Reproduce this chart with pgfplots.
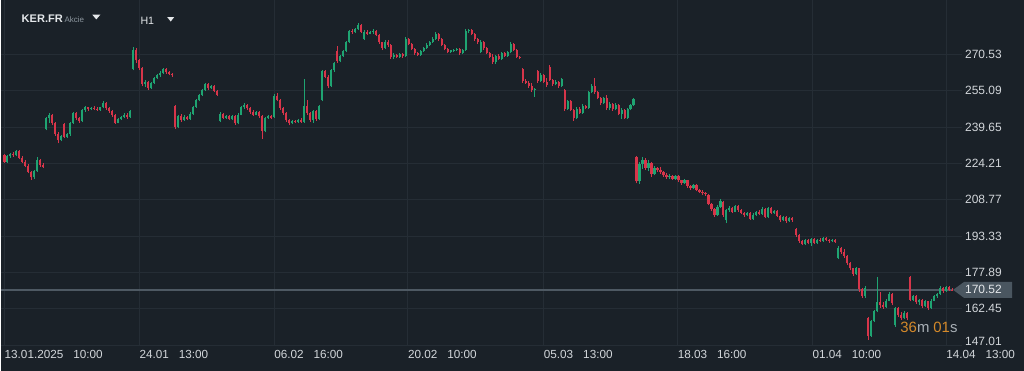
\documentclass[border=0pt]{standalone}
\usepackage{pgfplots}
\pgfplotsset{compat=1.18}
\usepackage{pgfplotstable}
\usepackage{fontspec}
\setmainfont{Liberation Sans}
\definecolor{bgc}{HTML}{1A2128}
\definecolor{gridc}{HTML}{252D35}
\definecolor{upc}{HTML}{1FA472}
\definecolor{dnc}{HTML}{D7354A}
\definecolor{txtc}{HTML}{D2D6DA}
\definecolor{pricec}{HTML}{4E5963}
\definecolor{boxc}{HTML}{4A5660}
\definecolor{orangec}{HTML}{D4892A}
\definecolor{mutec}{HTML}{A9B0B6}
\definecolor{headc}{HTML}{E4E7EA}
\definecolor{subc}{HTML}{8C969E}

% x = horizontal position (px), o h l c = prices, d = 1 up / 0 down
\pgfplotstableread{
x o h l c d
3 227.6 228.2 224.6 225.0 0
6 225.0 227.8 224.5 227.2 1
9 227.2 228.6 226.5 228.3 1
12 228.3 229.0 227.0 227.6 0
15 227.6 230.0 227.2 229.4 1
18 229.4 229.8 226.0 226.5 0
21 226.5 227.3 224.5 225.0 0
24 225.0 225.8 222.6 223.2 0
27 223.2 224.0 220.0 220.6 0
30 220.6 221.2 217.4 218.3 0
33 218.3 221.6 217.8 220.9 1
36 220.9 226.8 220.5 225.8 1
39 225.8 226.2 222.8 223.5 0
42 223.5 224.4 222.2 222.6 0
45 238.7 244.0 238.3 243.5 1
48 243.5 245.6 241.5 245.0 1
51 245.0 245.3 240.5 241.2 0
54 241.2 241.8 236.0 236.8 0
57 236.8 237.5 232.7 234.2 0
60 234.2 236.5 233.6 236.0 1
63 240.8 241.4 235.2 235.6 0
66 235.6 237.2 235.0 236.6 1
69 236.6 242.0 236.0 241.5 1
72 241.5 246.0 241.0 245.6 1
75 245.6 245.9 242.8 243.4 0
78 243.4 243.9 241.6 242.2 0
81 242.2 247.5 241.8 247.0 1
84 247.0 248.6 246.2 248.0 1
87 248.0 248.4 246.6 247.3 0
90 247.3 248.2 246.8 247.9 1
93 247.9 248.7 247.0 247.5 0
96 247.5 248.0 246.6 247.0 0
99 247.0 248.4 246.5 248.0 1
102 248.0 250.6 247.6 250.0 1
105 250.0 250.2 247.0 247.6 0
108 247.6 248.3 245.8 246.5 0
111 246.5 247.0 244.0 244.8 0
114 244.8 245.2 241.0 241.6 0
117 241.6 243.6 241.2 243.0 1
120 243.0 244.5 242.6 244.0 1
123 244.0 245.6 243.5 245.0 1
126 245.0 245.5 243.2 244.0 0
129 244.0 247.0 243.6 246.4 1
132 264.2 273.5 263.8 272.4 1
135 272.4 273.2 267.0 268.0 0
138 268.0 268.6 264.0 264.8 0
141 264.8 265.2 257.0 258.0 0
144 258.0 259.6 256.8 259.0 1
147 259.0 259.4 255.4 256.2 0
150 256.2 258.8 255.8 258.4 1
153 258.4 261.0 258.0 260.4 1
156 260.4 262.2 260.0 261.6 1
159 261.6 263.4 261.0 262.8 1
162 262.8 264.8 262.2 264.2 1
165 264.2 264.6 262.4 263.0 0
168 263.0 263.6 261.6 262.2 0
171 262.2 262.8 261.0 261.6 0
174 248.6 249.0 238.8 239.6 0
177 239.6 245.0 239.2 244.4 1
180 244.4 245.2 242.0 242.8 0
183 242.8 244.6 242.4 244.0 1
186 244.0 244.4 242.6 243.2 0
189 243.2 246.0 242.8 245.4 1
192 245.4 248.8 245.0 248.2 1
195 248.2 251.6 247.8 251.0 1
198 251.0 253.8 250.6 253.2 1
201 253.2 256.0 252.8 255.4 1
204 255.4 258.4 255.0 257.8 1
207 257.8 258.2 255.6 256.2 0
210 256.2 257.6 255.8 257.0 1
213 257.0 257.4 254.4 255.0 0
216 255.0 255.4 252.8 253.4 0
219 242.2 246.0 241.8 245.4 1
222 245.4 245.8 243.0 243.6 0
225 243.6 244.8 243.2 244.4 1
228 244.4 244.8 242.6 243.0 0
231 243.0 244.6 242.6 244.2 1
234 244.2 244.6 240.6 241.2 0
237 241.2 245.6 240.8 245.0 1
240 245.0 248.6 244.6 248.0 1
243 248.0 249.8 247.4 249.0 1
246 249.0 249.6 247.0 247.6 0
249 247.6 248.0 245.4 246.0 0
252 246.0 246.8 244.4 245.0 0
255 245.0 246.6 244.6 246.0 1
258 246.0 246.4 243.6 244.2 0
261 244.2 244.6 234.8 238.0 0
264 238.0 244.0 237.4 243.4 1
267 243.4 244.8 243.0 244.2 1
270 244.2 244.6 243.0 243.6 0
273 244.0 253.6 243.6 253.0 1
276 253.0 254.2 250.6 251.2 0
279 251.2 251.6 247.0 247.8 0
282 247.8 248.4 245.0 245.8 0
285 245.8 246.2 242.0 242.8 0
288 242.8 243.2 240.4 241.2 0
291 241.2 242.8 240.8 242.4 1
294 242.4 242.8 241.2 241.8 0
297 241.8 243.0 241.4 242.6 1
300 242.6 243.4 241.6 242.0 0
303 242.0 260.0 241.6 248.6 1
306 248.6 251.2 245.0 245.6 0
309 245.6 246.0 242.0 242.8 0
312 242.8 247.0 241.6 246.4 1
315 246.4 246.8 242.4 243.0 0
318 243.0 249.2 242.6 248.6 1
321 251.0 264.0 250.6 263.4 1
324 263.4 263.8 260.4 261.0 0
327 261.0 261.6 256.2 257.0 0
330 257.0 264.4 256.6 263.8 1
333 263.8 267.4 263.2 266.8 1
336 272.0 274.2 266.8 267.6 0
339 267.6 270.4 267.2 269.8 1
342 269.8 272.6 269.4 272.0 1
345 272.0 276.4 271.6 275.8 1
348 275.8 281.0 275.4 280.4 1
351 280.4 281.2 279.2 280.0 0
354 280.0 281.8 279.6 281.2 1
357 281.2 283.8 280.8 283.0 1
360 283.0 283.4 279.6 280.2 0
363 277.2 280.8 276.8 280.2 1
366 280.2 280.8 278.8 279.4 0
369 279.4 280.6 279.0 280.2 1
372 280.2 281.2 279.4 280.6 1
375 280.6 281.0 278.2 278.8 0
378 278.8 279.2 275.0 275.6 0
381 275.6 276.0 272.6 273.4 0
384 273.4 276.6 273.0 276.0 1
387 276.0 276.8 273.6 274.4 0
390 274.4 274.8 268.6 269.4 0
393 269.4 271.0 268.6 270.4 1
396 270.4 270.8 268.8 269.4 0
399 269.4 271.0 269.0 270.6 1
402 270.6 271.0 269.2 269.8 0
405 269.8 277.8 269.4 277.0 1
408 277.0 277.6 274.4 275.0 0
411 275.0 275.4 272.4 273.0 0
414 273.0 273.4 270.4 271.0 0
417 271.0 271.6 269.8 270.4 0
420 270.4 272.6 270.0 272.0 1
423 272.0 273.8 271.6 273.2 1
426 273.2 275.2 272.8 274.6 1
429 274.6 276.4 274.2 275.8 1
432 275.8 277.8 275.4 277.2 1
435 277.2 280.0 276.8 279.4 1
438 279.4 279.8 276.4 277.0 0
441 277.0 277.4 274.0 274.6 0
444 274.6 275.0 272.2 272.8 0
447 272.8 273.2 271.0 271.6 0
450 271.6 272.6 271.2 272.2 1
453 272.2 273.0 271.6 272.6 1
456 272.6 273.4 272.0 272.8 1
459 272.8 273.2 270.2 271.0 0
462 271.0 272.8 270.6 272.4 1
465 272.4 281.2 272.0 280.4 1
468 280.4 281.2 279.6 280.8 1
471 280.8 281.2 278.6 279.2 0
474 279.2 279.6 276.4 277.0 0
477 277.0 277.4 275.0 275.6 0
480 271.6 276.6 271.2 276.0 1
483 276.0 276.4 272.6 273.2 0
486 273.2 273.6 270.6 271.2 0
489 271.2 271.6 269.0 269.6 0
492 269.6 270.6 266.6 267.2 0
495 267.2 270.4 266.4 269.8 1
498 269.8 270.6 268.0 268.6 0
501 268.6 271.6 268.2 271.0 1
504 271.0 271.4 269.4 270.0 0
507 270.0 272.0 269.6 271.4 1
510 271.4 275.6 271.0 275.0 1
513 275.0 275.4 272.0 272.6 0
516 272.6 273.0 269.0 269.6 0
519 269.6 270.0 268.4 268.8 0
522 264.4 264.8 258.6 259.4 0
525 259.4 260.0 258.0 258.6 0
528 258.6 259.4 256.4 257.2 0
531 257.2 258.2 254.6 255.4 0
534 255.4 256.4 252.6 255.8 1
537 263.4 263.8 258.6 259.2 0
540 259.2 262.6 258.8 262.0 1
543 262.0 262.4 258.4 259.0 0
546 259.0 260.4 256.6 257.4 0
549 265.4 266.0 259.2 259.8 0
552 259.8 260.2 257.2 257.8 0
555 257.8 259.6 257.4 259.0 1
558 259.0 259.4 256.4 257.0 0
561 257.0 260.6 256.6 260.0 1
564 255.6 256.0 246.6 247.4 0
567 247.4 251.2 247.0 250.6 1
570 250.6 251.0 246.4 247.0 0
573 247.0 247.4 242.4 243.6 0
576 243.6 248.0 243.2 247.4 1
579 247.4 248.2 245.2 245.8 0
582 245.8 249.4 245.4 248.8 1
585 248.8 249.2 247.2 247.8 0
588 247.8 255.0 247.4 254.4 1
591 254.4 257.8 254.0 257.2 1
594 257.2 260.4 253.8 254.6 0
597 254.6 255.0 251.4 252.0 0
600 252.0 252.4 249.0 249.8 0
603 249.8 252.6 249.4 252.0 1
606 252.0 253.4 247.0 247.8 0
609 247.8 250.2 246.8 249.6 1
612 249.6 250.0 246.6 247.2 0
615 247.2 249.8 246.8 249.2 1
618 249.2 249.6 244.6 245.2 0
621 245.2 247.6 243.2 247.0 1
624 247.0 247.4 243.0 243.6 0
627 243.6 247.8 243.2 247.2 1
630 247.2 249.6 246.8 249.0 1
633 249.0 252.0 248.6 251.4 1
636 226.8 227.4 215.8 216.6 0
639 216.6 224.8 215.6 223.8 1
642 223.8 226.8 222.0 225.8 1
645 225.8 226.4 221.4 222.4 0
648 222.4 225.6 221.0 224.6 1
651 224.6 225.0 218.4 219.6 0
654 219.6 223.2 219.2 222.4 1
657 222.4 222.8 220.6 221.4 0
660 221.4 222.6 219.8 220.6 0
663 220.6 221.0 218.6 219.2 0
666 219.2 220.0 217.6 218.4 0
669 218.4 219.6 217.8 219.0 1
672 219.0 219.4 217.2 217.8 0
675 217.8 219.2 217.4 218.8 1
678 218.8 219.2 216.4 217.0 0
681 217.0 217.4 215.2 215.8 0
684 215.8 217.6 215.4 217.0 1
687 217.0 217.4 214.0 214.6 0
690 214.6 215.0 213.0 213.6 0
693 213.6 215.6 213.2 215.0 1
696 215.0 215.4 212.4 213.0 0
699 213.0 213.4 211.6 212.2 0
702 212.2 212.8 211.0 211.6 0
705 211.6 212.0 210.6 211.2 0
708 210.8 211.2 206.4 207.2 0
711 207.2 207.6 204.0 204.8 0
714 204.8 205.2 201.4 202.2 0
717 202.2 206.6 201.8 205.8 1
720 205.8 209.0 205.4 208.2 1
723 208.0 208.4 201.4 202.4 0
726 200.2 205.0 198.9 204.4 1
729 204.4 206.0 203.8 205.4 1
732 205.4 205.8 203.2 203.8 0
735 203.8 206.6 203.4 206.0 1
738 206.0 206.4 203.8 204.4 0
741 204.4 204.8 202.6 203.2 0
744 203.2 203.8 201.6 202.2 0
747 202.2 203.6 201.8 203.0 1
750 203.0 203.4 200.2 200.8 0
753 200.8 203.0 200.4 202.4 1
756 202.4 204.2 202.0 203.6 1
759 203.6 204.6 202.2 202.8 0
762 202.8 205.6 202.4 205.0 1
765 205.0 205.4 201.0 201.6 0
768 201.6 205.8 201.2 205.2 1
771 205.2 205.6 202.6 203.2 0
774 203.2 204.6 202.8 204.0 1
777 204.0 204.4 201.4 202.0 0
780 202.0 202.4 199.4 200.0 0
783 200.0 202.0 199.6 201.4 1
786 201.4 201.8 199.0 199.8 0
789 199.8 201.6 199.4 201.0 1
792 201.0 201.4 199.4 200.2 0
796 196.4 196.8 193.0 193.8 0
799 193.8 194.2 190.6 191.4 0
802 191.4 191.8 189.4 190.0 0
805 190.0 192.0 189.6 191.6 1
808 191.6 192.0 189.8 190.4 0
811 190.4 192.6 189.2 192.0 1
814 192.0 192.4 189.8 190.4 0
817 190.4 192.2 190.0 191.8 1
820 191.8 192.6 190.8 191.4 0
823 191.4 192.8 191.0 192.4 1
826 192.4 192.8 191.2 191.8 0
829 191.8 192.2 190.6 191.2 0
832 191.2 192.2 190.8 191.8 1
835 191.8 192.2 190.6 191.0 0
838 184.0 189.0 183.6 188.4 1
841 188.4 188.8 185.8 186.4 0
844 186.4 187.8 184.2 185.0 0
847 185.0 185.4 181.0 181.8 0
850 181.8 182.2 178.8 179.6 0
853 179.6 180.0 176.6 177.4 0
856 177.4 180.4 177.0 179.8 1
859 179.6 180.0 169.8 171.0 0
862 171.0 171.4 167.2 168.0 0
865 168.0 172.0 167.0 171.2 1
868 158.4 158.8 149.2 151.0 0
871 151.0 157.8 150.6 157.2 1
874 157.2 162.0 156.8 161.4 1
877 161.4 175.8 161.0 165.2 1
880 165.2 169.8 163.0 164.0 0
883 164.0 165.2 162.6 163.4 0
886 163.4 166.6 163.0 166.0 1
889 166.0 169.8 165.6 168.6 1
892 168.6 169.0 164.0 164.8 0
895 155.4 163.4 154.8 162.8 1
898 162.8 163.2 159.2 160.0 0
901 160.0 161.2 157.8 158.6 0
904 158.6 161.4 158.2 160.8 1
907 160.8 161.2 157.6 158.4 0
910 176.0 176.2 165.6 166.4 0
913 166.4 168.4 165.8 167.8 1
916 167.8 168.2 164.6 165.2 0
919 165.2 166.8 164.0 166.2 1
922 166.2 166.6 162.8 163.6 0
925 163.6 166.2 163.2 165.6 1
928 165.6 166.0 162.0 162.8 0
931 162.8 166.6 162.4 166.0 1
934 166.0 168.4 165.6 167.8 1
937 167.8 169.4 167.2 168.8 1
940 168.8 172.0 168.4 171.4 1
943 171.4 171.8 169.4 170.0 0
946 170.0 172.2 169.6 171.6 1
949 171.6 172.0 170.0 170.6 0
952 170.6 171.4 170.0 170.5 0
}\candles

\begin{document}
\begin{tikzpicture}
\fill[bgc] (0,0) rectangle (768pt,278.25pt);
\begin{axis}[
  anchor=south west, at={(0,0)},
  scale only axis, width=768pt, height=278.25pt,
  xmin=0, xmax=1024, ymin=136.07, ymax=293.44,
  hide axis, clip=false]
\pgfplotsinvokeforeach{270.53,255.09,239.65,224.21,208.77,193.33,177.89,162.45,147.01}{
  \draw[gridc, line width=0.75pt] (axis cs:0,#1) -- (axis cs:962,#1);
}
\pgfplotsinvokeforeach{3,138,273,407,543,677,812,946}{
  \draw[gridc, line width=0.75pt] (axis cs:#1,147.01) -- (axis cs:#1,293.44);
}
\draw[pricec, line width=1.1pt] (axis cs:0,170.52) -- (axis cs:953,170.52);

% wicks (zero length where the colour does not apply)
\addplot[draw=none, mark=none,
  error bars/.cd, y dir=plus, y explicit, error mark=none,
  error bar style={draw=upc, line width=0.6pt, line cap=butt}]
  table[x=x, y=l, y error plus expr=(\thisrow{h}-\thisrow{l})*\thisrow{d}] {\candles};
\addplot[draw=none, mark=none,
  error bars/.cd, y dir=plus, y explicit, error mark=none,
  error bar style={draw=dnc, line width=0.6pt, line cap=butt}]
  table[x=x, y=l, y error plus expr=(\thisrow{h}-\thisrow{l})*(1-\thisrow{d})] {\candles};
% bodies
\addplot[draw=none, mark=none,
  error bars/.cd, y dir=plus, y explicit, error mark=none,
  error bar style={draw=upc, line width=1.6pt, line cap=butt}]
  table[x=x, y=o, y error plus expr=(\thisrow{c}-\thisrow{o})*\thisrow{d}] {\candles};
\addplot[draw=none, mark=none,
  error bars/.cd, y dir=plus, y explicit, error mark=none,
  error bar style={draw=dnc, line width=1.6pt, line cap=butt}]
  table[x=x, y=c, y error plus expr=(\thisrow{o}-\thisrow{c})*(1-\thisrow{d})] {\candles};

% header
\node[anchor=west, inner sep=0pt, text=headc, font=\fontsize{8.3}{9}\selectfont\bfseries] at (axis cs:20,285.8) {KER.FR};
\node[anchor=west, inner sep=0pt, text=subc, font=\fontsize{6}{7}\selectfont] at (axis cs:63,285.4) {Akcie};
\fill[headc] (axis cs:91,287.4) -- (axis cs:99,287.4) -- (axis cs:95,285.4) -- cycle;
\node[anchor=west, inner sep=0pt, text=headc, font=\fontsize{8}{9}\selectfont] at (axis cs:139,284.96) {H1};
\fill[headc] (axis cs:166,286.4) -- (axis cs:173,286.4) -- (axis cs:169.5,284.5) -- cycle;

% price scale
\pgfplotsinvokeforeach{270.53,255.09,239.65,224.21,208.77,193.33,177.89,162.45}{
  \node[anchor=east, inner sep=0pt, text=txtc, font=\fontsize{9}{10}\selectfont] at (axis cs:1002,#1) {#1};
}
\node[anchor=east, inner sep=0pt, text=txtc, font=\fontsize{9}{10}\selectfont] at (axis cs:1002,148.79) {147.01};

% current price label
\fill[boxc] (axis cs:953,170.52) -- (axis cs:964,173.9) -- (axis cs:1012,173.9) -- (axis cs:1012,167.1) -- (axis cs:964,167.1) -- cycle;
\node[anchor=east, inner sep=0pt, text=headc, font=\fontsize{9}{10}\selectfont] at (axis cs:1002,170.52) {170.52};

% countdown
\node[anchor=west, inner sep=0pt, font=\fontsize{11.2}{12}\selectfont] at (axis cs:900,154.73)
  {\textcolor{orangec}{36}\textcolor{mutec}{m}\hspace{3pt}\textcolor{orangec}{01}\textcolor{mutec}{s}};

% time scale
\node[anchor=west, inner sep=0pt, text=txtc, font=\fontsize{8.8}{10}\selectfont] at (axis cs:3,143.28) {13.01.2025\hspace{7.5pt}10:00};
\node[anchor=west, inner sep=0pt, text=txtc, font=\fontsize{8.8}{10}\selectfont] at (axis cs:138,143.28) {24.01\hspace{7.5pt}13:00};
\node[anchor=west, inner sep=0pt, text=txtc, font=\fontsize{8.8}{10}\selectfont] at (axis cs:273,143.28) {06.02\hspace{7.5pt}16:00};
\node[anchor=west, inner sep=0pt, text=txtc, font=\fontsize{8.8}{10}\selectfont] at (axis cs:407,143.28) {20.02\hspace{7.5pt}10:00};
\node[anchor=west, inner sep=0pt, text=txtc, font=\fontsize{8.8}{10}\selectfont] at (axis cs:543,143.28) {05.03\hspace{7.5pt}13:00};
\node[anchor=west, inner sep=0pt, text=txtc, font=\fontsize{8.8}{10}\selectfont] at (axis cs:677,143.28) {18.03\hspace{7.5pt}16:00};
\node[anchor=west, inner sep=0pt, text=txtc, font=\fontsize{8.8}{10}\selectfont] at (axis cs:812,143.28) {01.04\hspace{7.5pt}10:00};
\node[anchor=west, inner sep=0pt, text=txtc, font=\fontsize{8.8}{10}\selectfont] at (axis cs:946,143.28) {14.04\hspace{7.5pt}13:00};
\end{axis}
\end{tikzpicture}
\end{document}
